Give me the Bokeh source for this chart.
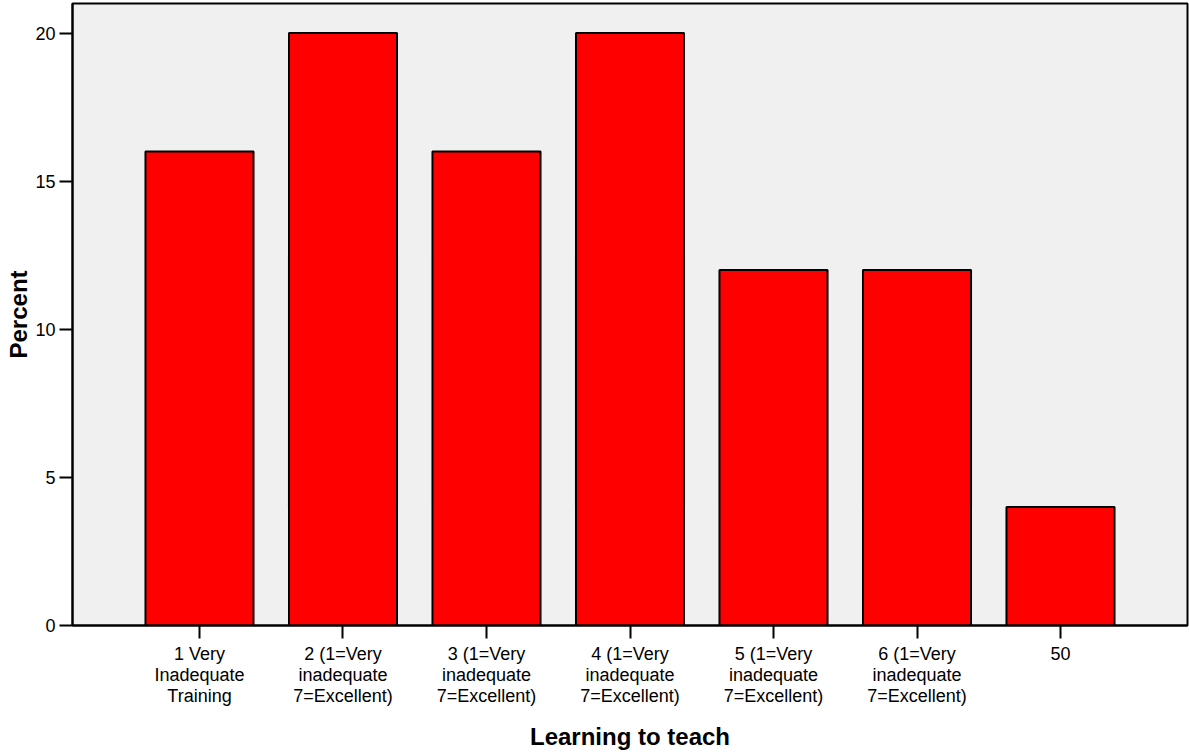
from bokeh.plotting import figure
from bokeh.models import Range1d, FixedTicker, ColumnDataSource
from bokeh.embed import file_html
from bokeh.resources import INLINE

categories = [
    "1 Very\nInadequate\nTraining",
    "2 (1=Very\ninadequate\n7=Excellent)",
    "3 (1=Very\ninadequate\n7=Excellent)",
    "4 (1=Very\ninadequate\n7=Excellent)",
    "5 (1=Very\ninadequate\n7=Excellent)",
    "6 (1=Very\ninadequate\n7=Excellent)",
    "50",
]
percent = [16, 20, 16, 20, 12, 12, 4]
y_ticks = [0, 5, 10, 15, 20]

xs = list(range(1, len(categories) + 1))
src = ColumnDataSource(dict(x=xs, top=percent))

p = figure(width=1189, height=752, output_backend="svg", toolbar_location=None,
           x_range=Range1d(0.115, 7.885), y_range=Range1d(0, 21.0),
           min_border_left=72, min_border_right=2, min_border_top=3,
           min_border_bottom=125)

p.vbar(x="x", top="top", width=0.753, bottom=0, source=src,
       fill_color="#ff0000", line_color="black", line_width=2)

p.background_fill_color = "#f0f0f0"
p.border_fill_color = "white"
p.outline_line_color = "black"
p.outline_line_width = 2
p.xgrid.grid_line_color = None
p.ygrid.grid_line_color = None

p.xaxis.ticker = FixedTicker(ticks=xs)
p.xaxis.major_label_overrides = {x: c for x, c in zip(xs, categories)}
p.yaxis.ticker = FixedTicker(ticks=y_ticks)

for ax in (p.xaxis[0], p.yaxis[0]):
    ax.axis_line_color = "black"
    ax.axis_line_width = 2
    ax.major_tick_line_color = "black"
    ax.major_tick_line_width = 2
    ax.major_tick_out = 13
    ax.major_tick_in = 0
    ax.minor_tick_line_color = None
    ax.major_label_text_font = "Liberation Sans"
    ax.major_label_text_font_size = "18px"
    ax.major_label_text_color = "black"
    ax.axis_label_text_font = "Liberation Sans"
    ax.axis_label_text_font_style = "bold"
    ax.axis_label_text_font_size = "24px"
    ax.axis_label_text_color = "black"

p.xaxis.major_label_standoff = 5
p.yaxis.major_label_standoff = 4
p.xaxis.major_label_text_line_height = 1.05
p.xaxis.axis_label_text_line_height = 1.0
p.yaxis.axis_label_text_line_height = 1.0
p.xaxis.axis_label = "Learning to teach"
p.yaxis.axis_label = "Percent"
p.xaxis.axis_label_standoff = 14
p.yaxis.axis_label_standoff = 0

open("out.html", "w").write(file_html(p, INLINE))
